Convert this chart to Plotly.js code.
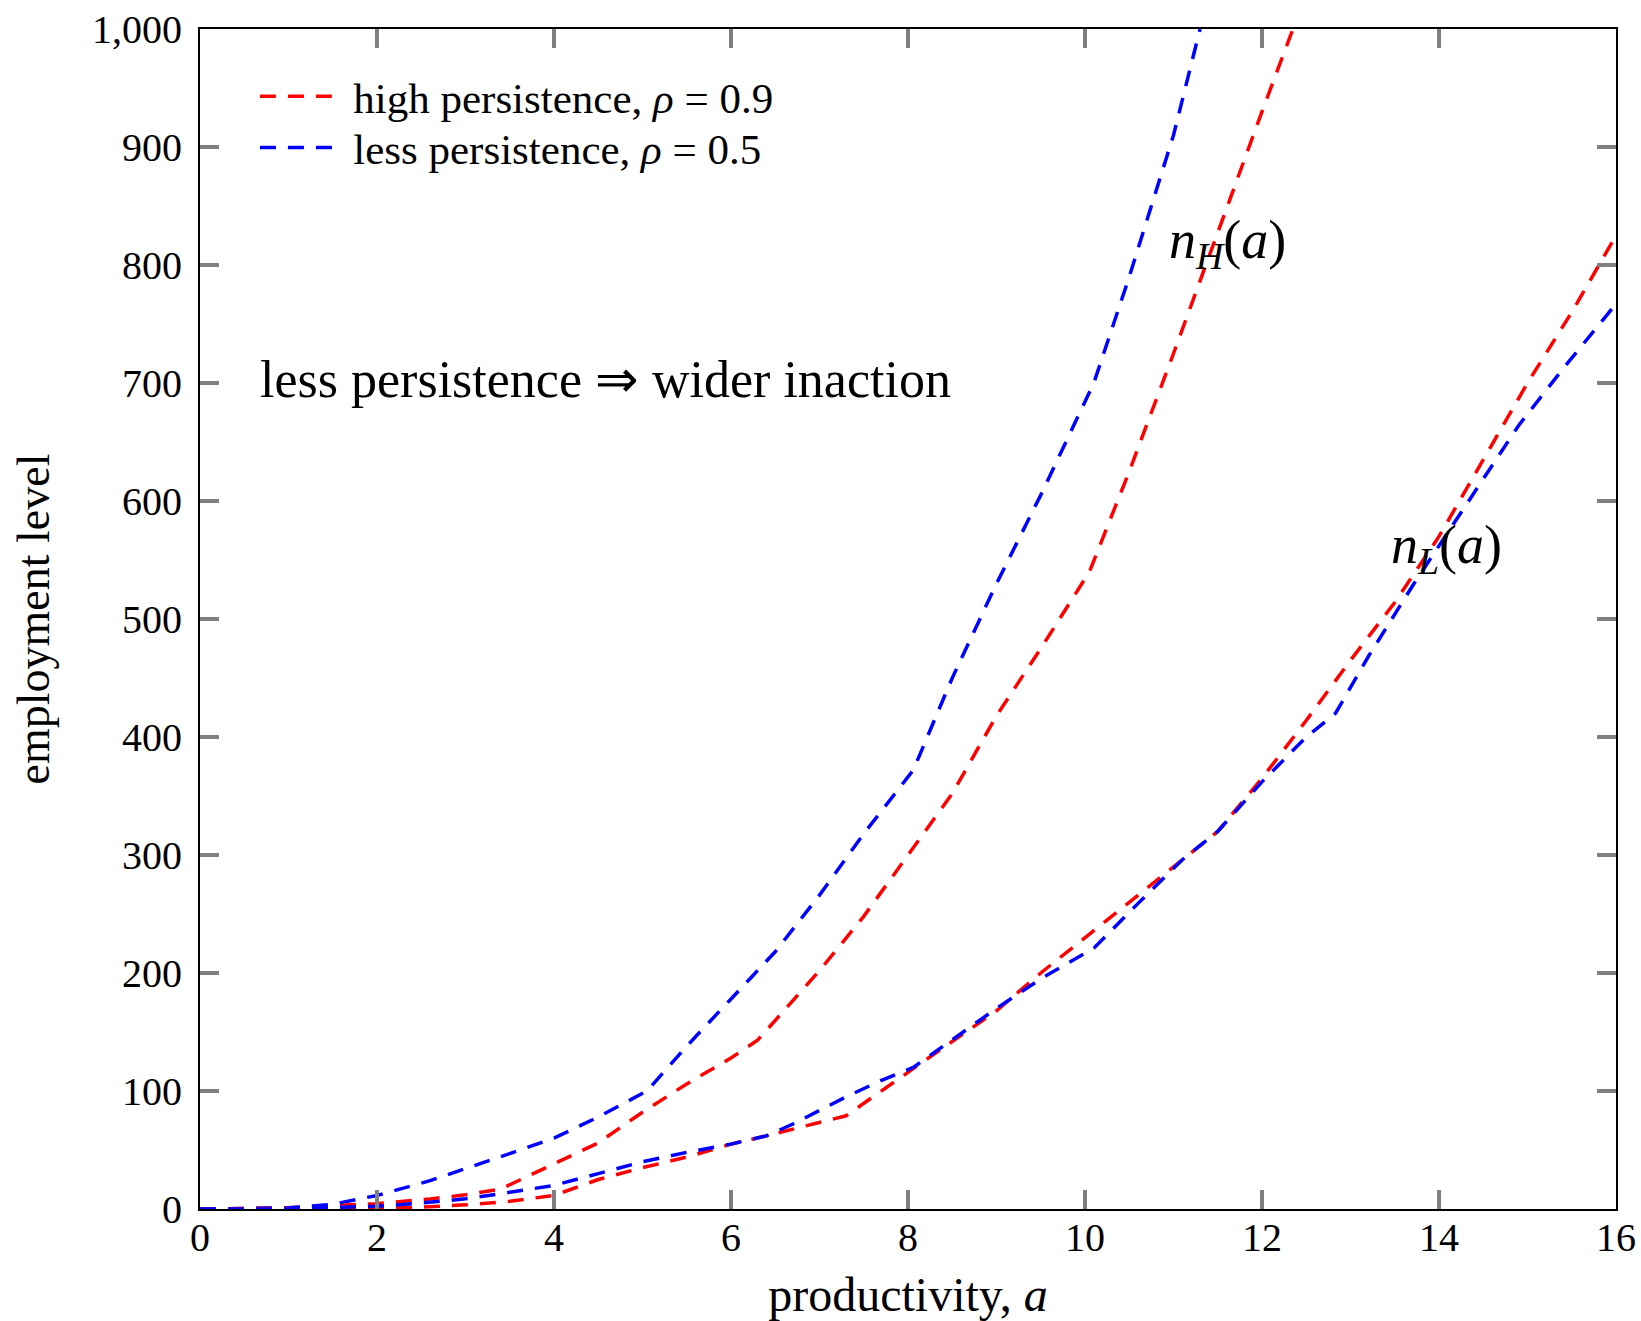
<!DOCTYPE html>
<html>
<head>
<meta charset="utf-8">
<script src="https://cdn.plot.ly/plotly-3.0.1.min.js"></script>
<style>
  html, body { margin: 0; padding: 0; background: #fff; }
  #chart { width: 1641px; height: 1321px; }
</style>
</head>
<body>
<div id="chart"></div>
<script>
// ---- data ----
const aHighH = [0, 1, 1.5, 2, 2.6, 3, 3.4, 4, 4.5, 5, 5.5, 6, 6.3, 7, 7.5, 8, 8.5, 9, 9.5, 10.05, 10.5, 11, 11.5, 12, 12.35];
const nHighH = [0, 1, 3, 4.5, 8.5, 12, 17, 38, 56, 82, 106, 128, 143, 202, 248, 300, 352, 418, 475, 540, 625, 725, 828, 930, 1000];

const aLessH = [0, 1, 1.5, 2, 2.6, 3, 3.5, 4, 4.5, 5.05, 5.5, 6, 6.5, 7, 7.5, 8.06, 8.5, 9, 9.5, 10.1, 10.5, 11, 11.3];
const nLessH = [0, 1, 4, 11.5, 24, 34, 47, 60, 78, 100, 138, 178, 218, 266, 318, 372, 450, 530, 605, 700, 790, 910, 1000];

const aHighL = [0, 1, 2, 2.5, 3, 3.5, 4, 4.5, 5, 5.5, 6, 6.4, 7.3, 8.06, 8.5, 9, 9.5, 10, 10.5, 11, 11.5, 12, 12.5, 13, 13.5, 14, 14.5, 15, 15.5, 16];
const nHighL = [0, 0, 0.5, 1.5, 3.5, 6.5, 11.5, 25, 35, 44, 55, 62, 79, 119, 142, 168, 200, 230, 260, 290, 320, 365, 414, 465, 514, 570, 635, 700, 760, 825];

const aLessL = [0, 1, 1.6, 2, 2.4, 3, 3.4, 4, 4.5, 5, 5.5, 6, 6.4, 6.7, 7.3, 7.7, 8.06, 8.5, 9, 9.5, 10.1, 10.6, 11.1, 11.5, 12, 12.5, 12.83, 13.2, 13.7, 14.3, 14.9, 15.4, 16];
const nLessL = [0, 0, 1.5, 2.3, 4.4, 8.6, 13, 20, 30, 40, 48, 55, 62, 72, 95, 109, 120, 143, 170, 195, 221, 259, 296, 320, 362, 400, 420, 468, 528, 596, 664, 712, 767];

const seriesNames = ["high persistence, <i>ρ</i> = 0.9", "less persistence, <i>ρ</i> = 0.5"];
const xTickVals = [0, 2, 4, 6, 8, 10, 12, 14, 16];
const xTickText = ["0", "2", "4", "6", "8", "10", "12", "14", "16"];
const yTickVals = [0, 100, 200, 300, 400, 500, 600, 700, 800, 900, 1000];
const yTickText = ["0", "100", "200", "300", "400", "500", "600", "700", "800", "900", "1,000"];

// ---- styling ----
const FONT = "Liberation Serif, Times New Roman, serif";
const RED = "#ff0000", BLUE = "#0000ff";
const DASH = "16px,12px";
const LW = 3.5;
const GAP = "\u00A0\u200A"; // small gap between legend sample and label

const traces = [
  { x: aHighH, y: nHighH, name: GAP + seriesNames[0], mode: "lines", line: { color: RED, width: LW, dash: DASH }, showlegend: true, legend: "legend" },
  { x: aLessH, y: nLessH, name: GAP + seriesNames[1], mode: "lines", line: { color: BLUE, width: LW, dash: DASH }, showlegend: true, legend: "legend2" },
  { x: aHighL, y: nHighL, name: seriesNames[0], mode: "lines", line: { color: RED, width: LW, dash: DASH }, showlegend: false },
  { x: aLessL, y: nLessL, name: seriesNames[1], mode: "lines", line: { color: BLUE, width: LW, dash: DASH }, showlegend: false }
];

const axisCommon = {
  showgrid: false, zeroline: false,
  showline: true, linecolor: "#000", linewidth: 2, mirror: "allticks",
  ticks: "inside", ticklen: 19, tickwidth: 4.5, tickcolor: "rgb(128,128,128)",
  tickfont: { family: FONT, size: 40, color: "#000" },
  automargin: false
};

const legendCommon = {
  xanchor: "left", yanchor: "middle",
  bgcolor: "rgba(0,0,0,0)", borderwidth: 0,
  font: { family: FONT, size: 43, color: "#000" },
  itemwidth: 74
};

const layout = {
  width: 1641, height: 1321,
  margin: { l: 200, r: 25, t: 29, b: 112 },
  paper_bgcolor: "#fff", plot_bgcolor: "#fff",
  font: { family: FONT, color: "#000" },
  showlegend: true,
  legend: Object.assign({}, legendCommon, { x: 0.0388, y: 0.9430 }),
  legend2: Object.assign({}, legendCommon, { x: 0.0388, y: 0.8996 }),
  xaxis: Object.assign({}, axisCommon, {
    range: [0, 16], tickmode: "array", tickvals: xTickVals, ticktext: xTickText,
    ticklabelstandoff: -8,
    title: { text: "productivity, <i>a</i>", font: { family: FONT, size: 48, color: "#000" }, standoff: 26 }
  }),
  yaxis: Object.assign({}, axisCommon, {
    range: [0, 1000], tickmode: "array", tickvals: yTickVals, ticktext: yTickText,
    ticklabelstandoff: 8,
    title: { text: "employment level", font: { family: FONT, size: 46, color: "#000" }, standoff: 28 }
  }),
  annotations: [
    { x: 0.66, y: 703, xref: "x", yref: "y", xanchor: "left", yanchor: "middle", showarrow: false,
      text: "less persistence ⇒ wider inaction", font: { family: FONT, size: 52, color: "#000" } },
    { x: 10.93, y: 818, xref: "x", yref: "y", xanchor: "left", yanchor: "middle", showarrow: false,
      text: "<i>n</i><sub><i>H</i></sub>(<i>a</i>)", font: { family: FONT, size: 54, color: "#000" } },
    { x: 13.44, y: 560, xref: "x", yref: "y", xanchor: "left", yanchor: "middle", showarrow: false,
      text: "<i>n</i><sub><i>L</i></sub>(<i>a</i>)", font: { family: FONT, size: 54, color: "#000" } }
  ]
};

Plotly.newPlot("chart", traces, layout, { displayModeBar: false, staticPlot: true });
</script>
</body>
</html>
